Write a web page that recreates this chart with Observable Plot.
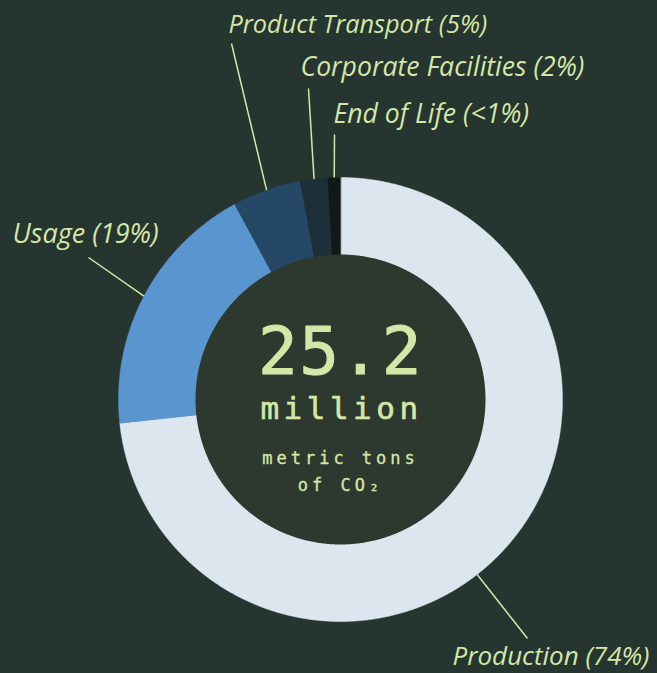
<!DOCTYPE html>
<html>
<head>
<meta charset="utf-8">
<script src="https://cdn.jsdelivr.net/npm/d3@7"></script>
<script src="https://cdn.jsdelivr.net/npm/@observablehq/plot@0.6"></script>
<style>
  html, body { margin: 0; padding: 0; background: #26352f; }
  #chart { width: 657px; height: 673px; }
</style>
</head>
<body>
<div id="chart"></div>
<script>
// ---- data ----
const categories = ["Production", "Usage", "Product Transport", "Corporate Facilities", "End of Life"];
const shares = [73.3, 18.8, 5.0, 2.0, 0.9];           // percent of total
const shareLabels = ["74%", "19%", "5%", "2%", "<1%"];
const totalValue = "25.2";
const totalUnit = "million";
const totalDesc = ["metric tons", "of CO\u2082"];

// ---- styling / layout ----
const colors = ["#dce6ef", "#5996cf", "#244866", "#1d3039", "#121718"];
const bg = "#26352f";
const holeColor = "#2d392e";
const ink = "#d3e7a8";
const R = 222, r0 = 145;
const labelLineEnd = [[187, 239], [-252, -142], [-109, -356], [-32, -311], [-6, -265]];
const labelTextPos = [[112, 265.5], [-328, -157], [-112, -367], [-40, -324], [-7, -277]];
const labelSize = [26.0, 27, 25.3, 26.6, 26.6];
const leaderAngleOverride = [142, null, null, null, null];
const centerSpacing = [1.5, 4.5, 4];

// ---- build geometry from data ----
const pie = d3.pie().sort(null).value(d => d.value)(categories.map((c, i) => ({cat: c, value: shares[i], i})));
const rad = Math.PI / 180;
const slicePts = [];
pie.forEach(s => {
  const n = Math.max(4, Math.ceil((s.endAngle - s.startAngle) / (0.25 * rad)));
  slicePts.push({cat: s.data.cat, x: 0, y: 0});
  for (let k = 0; k <= n; k++) {
    const a = s.startAngle + (s.endAngle - s.startAngle) * k / n;
    slicePts.push({cat: s.data.cat, x: R * Math.sin(a), y: -R * Math.cos(a)});
  }
});
const holePts = d3.range(0, 361, 0.5).map(d => ({x: r0 * Math.sin(d * rad), y: -r0 * Math.cos(d * rad)}));

const links = pie.map((s, i) => {
  const a = leaderAngleOverride[i] != null ? leaderAngleOverride[i] * rad : (s.startAngle + s.endAngle) / 2;
  return {x1: R * Math.sin(a), y1: -R * Math.cos(a), x2: labelLineEnd[i][0], y2: labelLineEnd[i][1]};
});
const labels = categories.map((c, i) => ({text: `${c} (${shareLabels[i]})`, x: labelTextPos[i][0], y: labelTextPos[i][1], size: labelSize[i]}));

const mono = "'DejaVu Sans Mono', monospace";
const chart = Plot.plot({
  width: 657,
  height: 673,
  margin: 0,
  style: {background: bg, overflow: "visible"},
  x: {domain: [-340, 317], range: [0, 657], axis: null},
  y: {domain: [-399, 274], range: [0, 673], axis: null},
  color: {domain: categories, range: colors},
  marks: [
    Plot.line(slicePts, {x: "x", y: "y", z: "cat", fill: "cat", stroke: "cat", strokeWidth: 0.5, curve: "linear-closed"}),
    Plot.line(holePts, {x: "x", y: "y", fill: holeColor, stroke: "none", curve: "linear-closed"}),
    Plot.link(links, {x1: "x1", y1: "y1", x2: "x2", y2: "y2", stroke: ink, strokeWidth: 1.5}),
    Plot.text(labels, {x: "x", y: "y", text: "text", textAnchor: "start", lineAnchor: "bottom",
      fill: ink, fontSize: "size", fontStyle: "italic", fontFamily: "'Open Sans', 'Noto Sans', sans-serif"}),
    Plot.text([totalValue], {x: 0, y: -26, text: d => d, textAnchor: "middle", lineAnchor: "bottom", dx: 0,
      fill: ink, fontSize: 66, fontFamily: mono, stroke: ink, strokeWidth: 1}),
    Plot.text([totalUnit], {x: 0, y: 19, text: d => d, textAnchor: "middle", lineAnchor: "bottom", dx: 1,
      fill: ink, fontSize: 31, fontFamily: mono, stroke: ink, strokeWidth: 0.6}),
    Plot.text(totalDesc, {x: 0, y: (d, i) => 64 + i * 27, text: d => d, textAnchor: "middle", lineAnchor: "bottom", dx: 0,
      fill: ink, fontSize: 17, fontFamily: mono, stroke: ink, strokeWidth: 0.3})
  ]
});
const spacingByText = new Map([[totalValue, centerSpacing[0]], [totalUnit, centerSpacing[1]],
  [totalDesc[0], centerSpacing[2]], [totalDesc[1], centerSpacing[2]]]);
chart.querySelectorAll("text").forEach(t => {
  const ls = spacingByText.get(t.textContent);
  if (ls != null) { t.setAttribute("letter-spacing", ls); t.style.letterSpacing = ls + "px"; }
});
document.getElementById("chart").appendChild(chart);
</script>
</body>
</html>
